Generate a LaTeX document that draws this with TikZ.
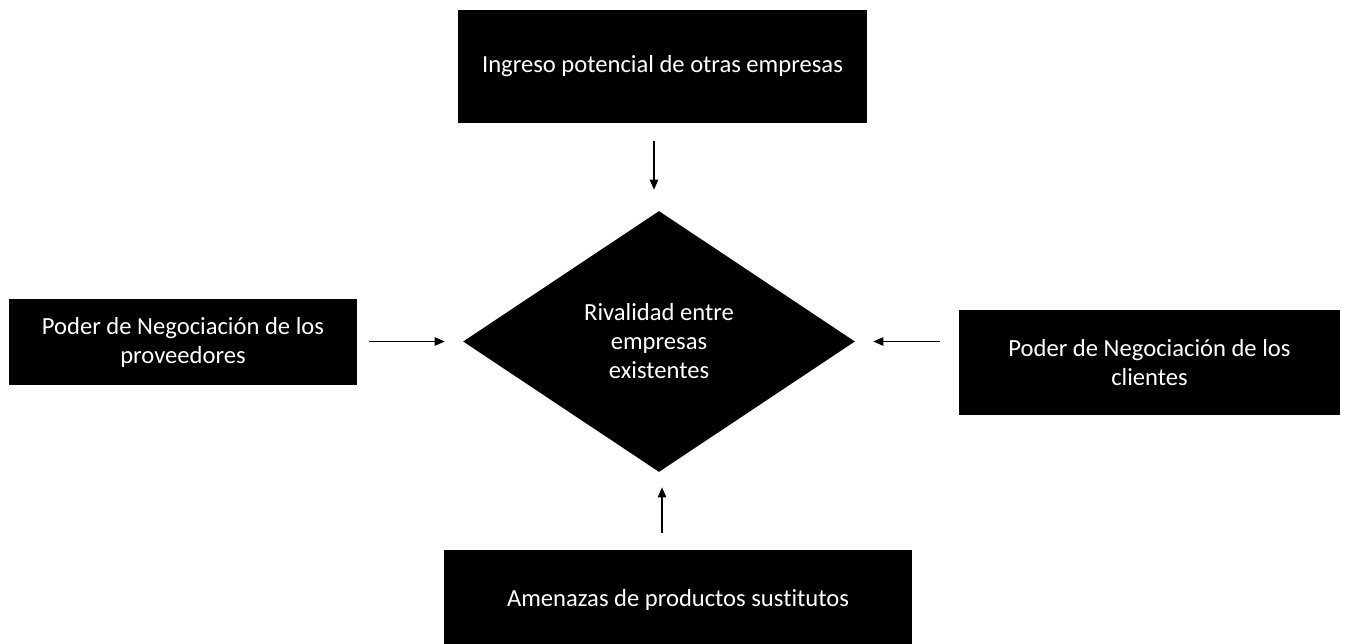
\documentclass[tikz,border=0pt]{standalone}
\usepackage{fontspec}
\setmainfont{Carlito}[Ligatures=NoCommon]
\usepackage{tikz}
\usetikzlibrary{positioning,arrows.meta,shapes.geometric,calc}

\begin{document}
\begin{tikzpicture}[
    force/.style={fill=black, text=white, inner sep=2pt, align=center, font=\fontsize{14pt}{16.5pt}\selectfont},
    rival/.style={diamond, fill=black, text=white, inner sep=0pt, align=center, font=\fontsize{14pt}{16.5pt}\selectfont},
    push/.style={-{Triangle[length=0.2cm, width=0.17cm]}, line width=0.6pt},
]
\useasboundingbox (0, 0) rectangle (26.9, 12.88);

\node[rival, minimum width=7.84cm, minimum height=5.22cm] (riv) at (13.18, 6.05) {Rivalidad entre\\empresas\\existentes};

\node[force, minimum width=8.18cm, minimum height=2.26cm] (ingreso) at (13.25, 11.55) {Ingreso potencial de otras empresas};
\node[force, minimum width=6.96cm, minimum height=1.72cm] (prov) at (3.66, 6.04) {Poder de Negociación de los\\proveedores};
\node[force, minimum width=7.62cm, minimum height=2.1cm] (cli) at (22.99, 5.63) {Poder de Negociación de los\\clientes};
\node[force, minimum width=9.36cm, minimum height=2.0cm] (sust) at (13.56, 0.88) {Amenazas de productos sustitutos};

% flechas hacia el rombo
\draw[push, shorten <=0.36cm, shorten >=0.42cm] ([xshift=-0.1cm]riv.north |- ingreso.south) -- ([xshift=-0.1cm]riv.north);
\draw[push, shorten <=0.24cm, shorten >=0.36cm] (prov.east |- riv.west) -- (riv.west);
\draw[push, shorten <=0.38cm, shorten >=0.36cm] (cli.west |- riv.east) -- (riv.east);
\draw[push, shorten <=0.34cm, shorten >=0.3cm] ([xshift=0.06cm]riv.south |- sust.north) -- ([xshift=0.06cm]riv.south);
\end{tikzpicture}
\end{document}
